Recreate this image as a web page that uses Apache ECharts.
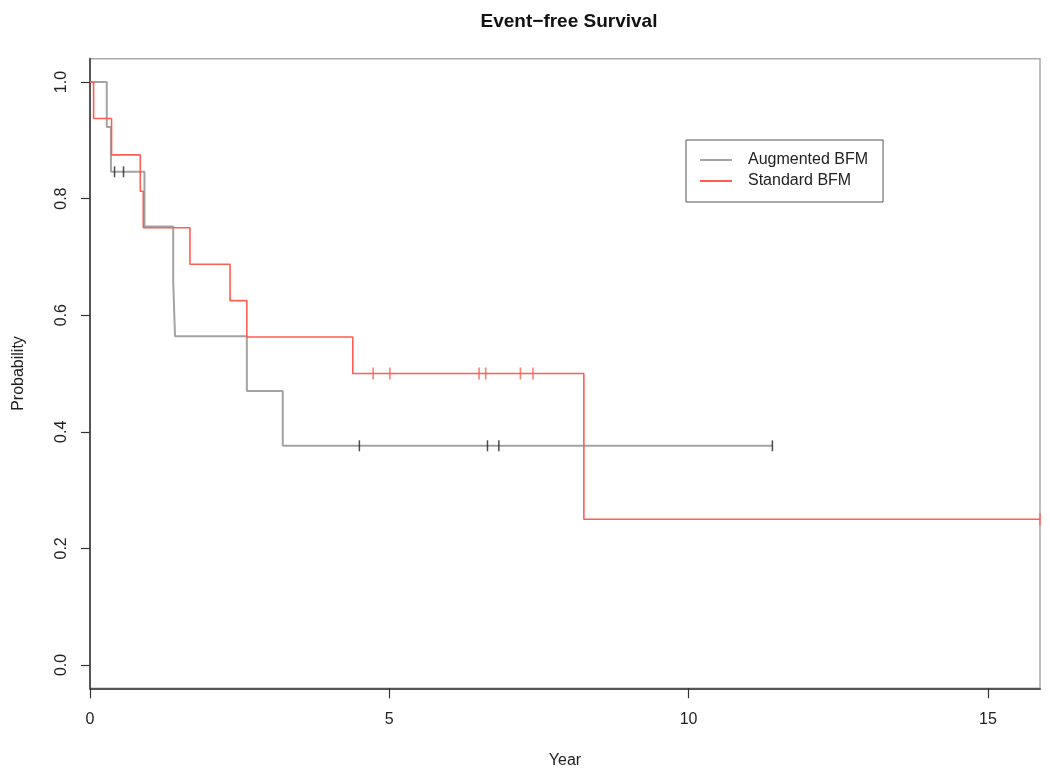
<!DOCTYPE html>
<html>
<head>
<meta charset="utf-8">
<script src="https://cdn.jsdelivr.net/npm/echarts@6/dist/echarts.min.js"></script>
<style>html,body{margin:0;padding:0;background:#fff;}#main{width:1050px;height:779px;}</style>
</head>
<body>
<div id="main"></div>
<script>
// Augmented BFM (n=13) Kaplan-Meier steps
const augTimes = [0, 0.28, 0.35, 0.91, 1.39, 1.42, 2.62, 3.22, 11.4];
const augSurv  = [1, 0.923, 0.846, 0.752, 0.658, 0.564, 0.470, 0.376, 0.376];
const augCensorTimes = [0.41, 0.56, 4.50, 6.64, 6.83, 11.4];
const augCensorSurv  = [0.846, 0.846, 0.376, 0.376, 0.376, 0.376];
// Standard BFM (n=16)
const stdTimes = [0, 0.06, 0.36, 0.84, 0.89, 1.67, 2.34, 2.62, 4.39, 8.25, 15.87];
const stdSurv  = [1, 0.9375, 0.875, 0.8125, 0.75, 0.6875, 0.625, 0.5625, 0.5, 0.25, 0.25];
const stdCensorTimes = [4.73, 5.01, 6.50, 6.61, 7.19, 7.40, 15.87];
const stdCensorSurv  = [0.5, 0.5, 0.5, 0.5, 0.5, 0.5, 0.25];
const xTicks = [0, 5, 10, 15];
const yTicks = [0, 0.2, 0.4, 0.6, 0.8, 1.0];
const seriesNames = ['Augmented BFM', 'Standard BFM'];

const zip = (a, b) => a.map((v, i) => [v, b[i]]);
const FONT = 'Liberation Sans, Arial, sans-serif';
const GREY = '#a3a3a3', RED = '#ff5e52';

const chart = echarts.init(document.getElementById('main'), null, {renderer: 'canvas'});
chart.setOption({
  animation: false,
  backgroundColor: '#fff',
  title: {
    text: 'Event\u2212free Survival',
    left: 564, top: 7, textAlign: 'center',
    textStyle: {fontFamily: FONT, fontWeight: 'bold', fontSize: 19, color: '#111'}
  },
  grid: {left: 90, right: 10, top: 58.7, bottom: 90.7, show: true, borderColor: '#aaa', borderWidth: 1.5},
  legend: {
    left: 686, top: 140, orient: 'vertical',
    padding: [12, 15, 13, 14], itemGap: 5, itemWidth: 32, itemHeight: 2,
    borderColor: '#555', borderWidth: 1, borderRadius: 0,
    textStyle: {fontFamily: FONT, fontSize: 16, color: '#222', padding: [0, 0, 0, 11]},
    data: [
      {name: seriesNames[0], icon: 'rect', itemStyle: {color: GREY}},
      {name: seriesNames[1], icon: 'rect', itemStyle: {color: RED}}
    ]
  },
  xAxis: {
    type: 'value', min: 0, max: 15.87,
    name: 'Year', nameLocation: 'middle', nameGap: 64,
    nameTextStyle: {fontFamily: FONT, fontSize: 16, color: '#222'},
    axisLine: {show: true, onZero: false, lineStyle: {color: '#555', width: 2}},
    axisTick: {show: true, length: 10, lineStyle: {color: '#333', width: 1.2}, customValues: xTicks},
    axisLabel: {fontFamily: FONT, fontSize: 16, color: '#222', margin: 23, customValues: xTicks, formatter: v => String(v)},
    splitLine: {show: false}
  },
  yAxis: {
    type: 'value', min: -0.04, max: 1.04,
    name: 'Probability', nameLocation: 'middle', nameGap: 63, nameRotate: 90,
    nameTextStyle: {fontFamily: FONT, fontSize: 16, color: '#222'},
    axisLine: {show: true, onZero: false, lineStyle: {color: '#555', width: 2}},
    axisTick: {show: true, length: 9, lineStyle: {color: '#333', width: 1.2}, customValues: yTicks},
    axisLabel: {fontFamily: FONT, fontSize: 16, color: '#222', margin: 20, rotate: 90, customValues: yTicks, formatter: v => v.toFixed(1)},
    splitLine: {show: false}
  },
  series: [
    {
      name: seriesNames[0], type: 'line', step: 'end', symbol: 'none',
      data: zip(augTimes, augSurv),
      lineStyle: {color: GREY, width: 2}, itemStyle: {color: GREY}, z: 2
    },
    {
      name: seriesNames[1], type: 'line', step: 'end', symbol: 'none',
      data: zip(stdTimes, stdSurv),
      lineStyle: {color: RED, width: 1.6}, itemStyle: {color: RED}, z: 3
    },
    {
      name: 'augCensor', type: 'scatter', symbol: 'rect', symbolSize: [1.5, 11],
      data: zip(augCensorTimes, augCensorSurv),
      itemStyle: {color: '#222'}, z: 4, silent: true
    },
    {
      name: 'stdCensor', type: 'scatter', symbol: 'rect', symbolSize: [1.6, 12],
      data: zip(stdCensorTimes, stdCensorSurv),
      itemStyle: {color: RED}, z: 4, silent: true
    }
  ]
});
</script>
</body>
</html>
